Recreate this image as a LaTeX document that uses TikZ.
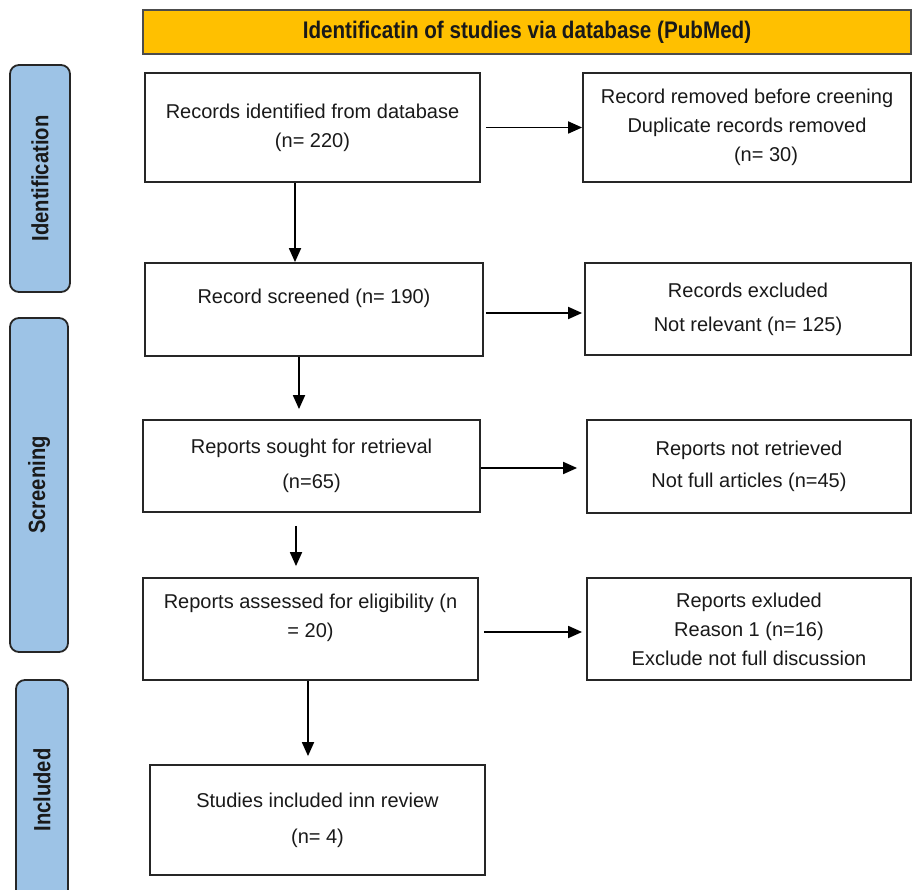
\documentclass[tikz,border=0pt]{standalone}
\usepackage{fontspec}
\setmainfont{Liberation Sans}
\newfontfamily\condbold{Liberation Sans}[FakeStretch=0.86]
\usetikzlibrary{arrows.meta,calc}
\definecolor{phaseblue}{HTML}{9DC3E6}
\definecolor{headyellow}{HTML}{FFC000}

\begin{document}
\begin{tikzpicture}[x=1pt,y=-1pt,>={Triangle[length=14pt,width=12pt]},line width=1.8pt,
    flow box/.style={draw=black!85,align=center,inner sep=4pt,text=black!90,font=\fontsize{20}{29}\selectfont},
    phase box/.style={draw=black!85,fill=phaseblue,rounded corners=9pt,rotate=90,text=black!90,font=\condbold\bfseries\fontsize{23.5}{27}\selectfont},
    head box/.style={draw=black!70,fill=headyellow,text=black!90,font=\condbold\bfseries\fontsize{24}{28}\selectfont}]

  \useasboundingbox (0,0) rectangle (913,890);

  \node[head box,minimum width=768pt,minimum height=44pt] (head) at (527,32) {Identificatin of studies via database (PubMed)};

  \node[phase box,minimum width=227pt,minimum height=60pt] (idp) at (40,178.5) {Identification};
  \node[phase box,minimum width=334pt,minimum height=58pt] (scp) at (39,485) {Screening};
  \node[phase box,minimum width=220pt,minimum height=52pt] (inp) at (42,790) {Included};

  \node[flow box,minimum width=335pt,minimum height=109pt] (found) at (312.5,127.5) {Records identified from database\\(n= 220)};
  \node[flow box,minimum width=338pt,minimum height=93pt] (screen) at (314,309.5) {Record screened (n= 190)\\[-2pt]\mbox{}};
  \node[flow box,minimum width=337pt,minimum height=92pt] (sought) at (311.5,466) {Reports sought for retrieval\\[6pt](n=65)};
  \node[flow box,minimum width=335pt,minimum height=102pt] (assess) at (310.5,629) {Reports assessed for eligibility (n\\= 20)\\[-3pt]\mbox{}};
  \node[flow box,minimum width=335pt,minimum height=110pt] (incl) at (317.5,820) {Studies included inn review\\[7pt](n= 4)};

  \node[flow box,minimum width=328pt,minimum height=109pt] (removed) at (747,127.5) {Record removed before creening\\Duplicate records removed\\\hspace*{38pt}(n= 30)};
  \node[flow box,minimum width=326pt,minimum height=92pt] (excl) at (748,309) {Records excluded\\[5pt]Not relevant (n= 125)};
  \node[flow box,minimum width=324pt,minimum height=93pt] (notret) at (749,466.5) {Reports not retrieved\\[3pt]Not full articles (n=45)};
  \node[flow box,minimum width=324pt,minimum height=102pt] (exl) at (749,629) {Reports exluded\\Reason 1 (n=16)\\Exclude not full discussion};

  \path[->] ($(found.south)+(-17.5,0)$) edge ($(screen.north)+(-19,0)$)
        ($(screen.south)+(-15,0)$) edge[shorten >=10pt] ($(sought.north)+(-12.5,0)$)
        ($(sought.south)+(-15.5,0)$) edge[shorten <=13pt,shorten >=11pt] ($(assess.north)+(-14.5,0)$)
        ($(assess.south)+(-2.5,0)$) edge[shorten >=8pt] ($(incl.north)+(-9.5,0)$)
        (found.east) edge[shorten <=5pt] (removed.west)
        ($(screen.east)+(0,3.5)$) edge[shorten <=2pt,shorten >=2pt] ($(excl.west)+(0,4)$)
        ($(sought.east)+(0,2)$) edge[shorten >=9pt] ($(notret.west)+(0,1.5)$)
        ($(assess.east)+(0,3)$) edge[shorten <=5pt,shorten >=4pt] ($(exl.west)+(0,3)$);

\end{tikzpicture}
\end{document}
